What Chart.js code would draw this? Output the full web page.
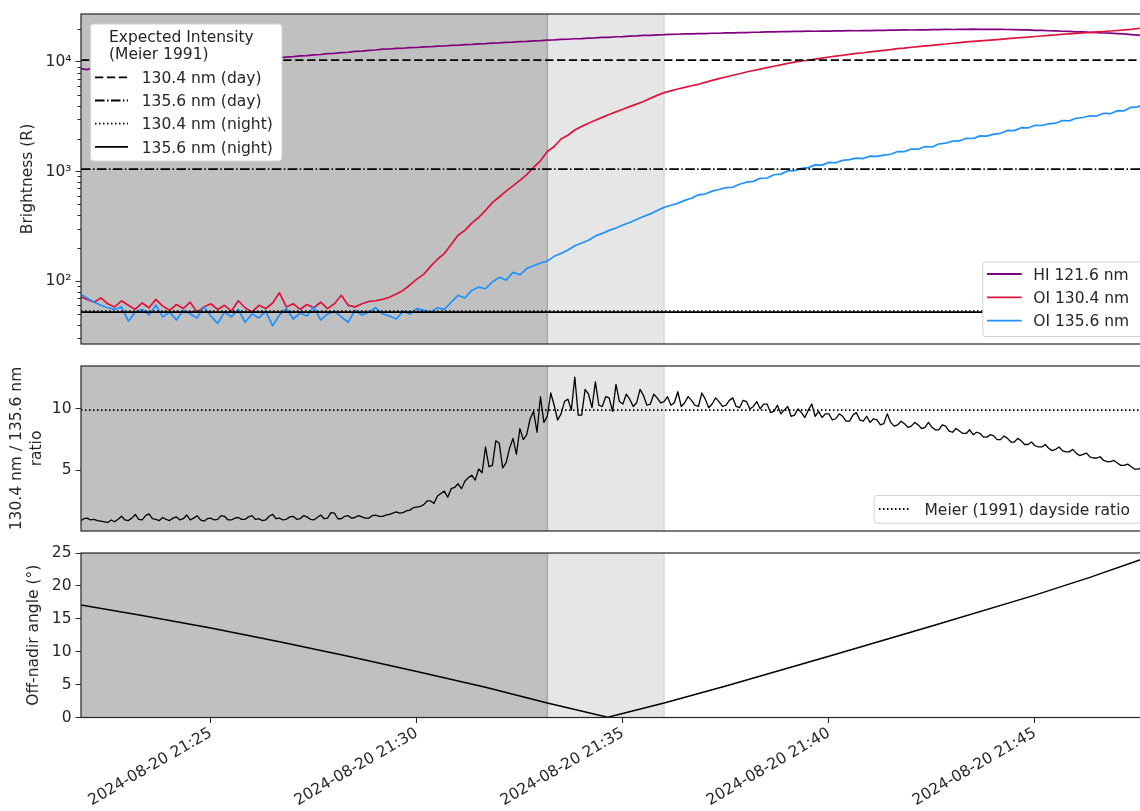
<!DOCTYPE html>
<html>
<head>
<meta charset="utf-8">
<script src="https://cdn.jsdelivr.net/npm/chart.js@4.4.1/dist/chart.umd.min.js"></script>
<style>
  html, body { margin: 0; padding: 0; background: #fff; overflow: hidden; width: 1140px; height: 811px; }
  canvas { position: absolute; left: 0; }
</style>
</head>
<body>
<canvas id="cBright" width="1160" height="352" style="top:0px"></canvas>
<canvas id="cRatio" width="1160" height="180" style="top:356px"></canvas>
<canvas id="cAngle" width="1160" height="271" style="top:540px"></canvas>
<script>
// ---------------------------------------------------------------------------
// Pass data. Clock: seconds after 2024-08-20 21:20:00
// ---------------------------------------------------------------------------
const obsDate = '2024-08-20';
const clockOriginSec = 21 * 3600 + 20 * 60;
const firstSampleSec = 110;
const sampleStepSec = 10;      // brightness cadence
const ratioStepSec = 5;        // ratio cadence

const seriesLabels = ['HI 121.6 nm', 'OI 130.4 nm', 'OI 135.6 nm'];

// HI 121.6 nm brightness (R)
const hiLyman = [
  8700, 8500, 8900, 9000, 9080, 9120, 9230, 9260, 9370, 9400,
  9510, 9560, 9650, 9700, 9810, 9850, 9960, 10010, 10120, 10150,
  10270, 10310, 10430, 10460, 10590, 10620, 10750, 10790, 10910, 10950,
  11080, 11170, 11350, 11430, 11620, 11700, 11900, 11980, 12180, 12260,
  12470, 12560, 12770, 12850, 13070, 13130, 13290, 13330, 13500, 13550,
  13720, 13770, 13940, 13990, 14160, 14210, 14390, 14440, 14620, 14670,
  14860, 14910, 15100, 15140, 15340, 15380, 15590, 15640, 15850, 15890,
  16060, 16110, 16290, 16330, 16520, 16560, 16750, 16790, 16990, 17040,
  17230, 17280, 17470, 17510, 17700, 17760, 17880, 17910, 18020, 18030,
  18150, 18160, 18280, 18290, 18410, 18420, 18540, 18550, 18670, 18680,
  18800, 18810, 18930, 18920, 19000, 18990, 19080, 19060, 19150, 19140,
  19220, 19210, 19290, 19270, 19370, 19340, 19450, 19410, 19520, 19500,
  19600, 19570, 19670, 19650, 19750, 19720, 19820, 19780, 19860, 19840,
  19900, 19860, 19890, 19850, 19850, 19780, 19740, 19630, 19590, 19460,
  19400, 19260, 19210, 19070, 19000, 18850, 18780, 18630, 18520, 18380,
  18300, 18130, 18010, 17780, 17560, 17330
];

// OI 130.4 nm brightness (R)
const oi1304 = [
  72, 68, 64, 70, 62, 58, 66, 60, 55, 63,
  57, 68, 59, 54, 61, 56, 64, 52, 58, 62,
  55, 60, 53, 66, 57, 52, 60, 56, 63, 78,
  58, 62, 55, 61, 57, 64, 56, 62, 74, 60,
  58, 62, 65, 66, 68, 71, 76, 82, 92, 104,
  115, 136, 158, 178, 215, 262, 290, 338, 380, 442,
  520, 585, 662, 738, 830, 935, 1090, 1250, 1520, 1690,
  1980, 2140, 2390, 2580, 2760, 2940, 3120, 3310, 3500, 3700,
  3910, 4120, 4350, 4650, 4950, 5250, 5450, 5660, 5850, 6060,
  6250, 6510, 6790, 7050, 7290, 7560, 7800, 8090, 8350, 8600,
  8860, 9140, 9400, 9690, 9950, 10200, 10360, 10610, 10840, 11100,
  11290, 11510, 11740, 11960, 12140, 12370, 12550, 12760, 12940, 13210,
  13390, 13620, 13790, 14020, 14190, 14420, 14590, 14820, 15000, 15220,
  15380, 15570, 15740, 15920, 16100, 16310, 16490, 16710, 16860, 17070,
  17260, 17470, 17650, 17900, 18050, 18240, 18420, 18570, 18780, 18960,
  19170, 19360, 19610, 19840, 20200, 20450
];

// OI 135.6 nm brightness (R)
const oi1356 = [
  76, 70, 64, 60, 57, 55, 58, 43, 52, 55,
  49, 60, 47, 52, 44, 54, 50, 46, 58, 48,
  41, 52, 47, 55, 42, 50, 46, 53, 39, 49,
  56, 45, 51, 48, 58, 44, 50, 53, 47, 42,
  54, 49, 52, 57, 50, 48, 45, 53, 50, 56,
  54, 52, 57, 55, 64, 74, 70, 82, 88, 85,
  98, 108, 102, 120, 114, 130, 138, 146, 152, 168,
  178, 192, 210, 222, 236, 258, 272, 290, 305, 325,
  342, 365, 388, 410, 440, 470, 492, 512, 545, 570,
  612, 622, 662, 684, 712, 718, 764, 798, 812, 866,
  872, 934, 946, 1012, 1015, 1070, 1084, 1148, 1142, 1210,
  1200, 1262, 1281, 1326, 1312, 1381, 1372, 1410, 1436, 1520,
  1518, 1603, 1598, 1688, 1672, 1781, 1812, 1893, 1899, 2010,
  2001, 2115, 2105, 2195, 2232, 2370, 2360, 2512, 2498, 2642,
  2630, 2720, 2760, 2920, 2895, 3062, 3110, 3228, 3205, 3400,
  3370, 3590, 3580, 3850, 3890, 4160
];

// 130.4 nm / 135.6 nm ratio, 5 s cadence
const ratio1304to1356 = [
  0.85, 1.05, 1.1, 0.95, 1.0, 0.9, 0.85, 0.8, 0.75, 0.95,
  0.8, 1.0, 1.25, 0.95, 0.9, 1.1, 1.4, 1.0, 0.95, 1.3,
  1.45, 1.05, 1.0, 0.9, 1.15, 1.0, 0.9, 1.1, 1.2, 0.95,
  1.05, 1.35, 0.95, 1.1, 1.3, 0.95, 0.85, 1.05, 1.1, 0.95,
  1.0, 1.3, 1.25, 0.95, 0.95, 1.1, 1.15, 1.0, 1.0, 1.2,
  1.3, 1.0, 1.05, 0.9, 0.95, 1.25, 1.4, 1.05, 1.1, 0.95,
  1.0, 1.2, 1.25, 1.0, 1.05, 1.3, 1.2, 1.0, 0.95, 1.15,
  1.35, 1.05, 1.1, 1.55, 1.5, 1.05, 1.05, 1.25, 1.3, 1.1,
  1.15, 1.3, 1.2, 1.1, 1.1, 1.3, 1.35, 1.25, 1.25, 1.35,
  1.4, 1.5, 1.6, 1.5, 1.55, 1.7, 1.75, 1.95, 2.0, 2.05,
  2.2, 2.5, 2.5, 2.3, 2.9, 3.1, 3.3, 2.8, 3.5, 3.6,
  3.9, 3.5, 4.1, 4.4, 4.6, 4.2, 5.1, 4.8, 6.9, 5.3,
  5.4, 7.4, 7.2, 5.2, 5.6, 6.8, 7.6, 6.3, 8.4, 7.5,
  7.9, 9.2, 9.8, 8.1, 11.0, 8.9, 9.4, 11.3, 10.3, 9.1,
  9.6, 10.6, 10.8, 9.9, 12.6, 9.5, 9.5, 11.6, 11.2, 10.1,
  12.2, 10.3, 10.2, 11.0, 10.9, 9.8, 12.0, 10.6, 10.4, 11.2,
  10.8, 10.2, 10.5, 11.6, 11.1, 10.3, 10.4, 11.2, 10.9, 10.5,
  10.6, 11.0, 10.3, 10.5, 11.4, 10.2, 10.5, 11.0, 10.7, 10.3,
  10.2, 11.3, 10.8, 10.1, 10.4, 10.9, 10.6, 10.2, 10.3, 10.7,
  10.9, 10.2, 10.1, 10.7, 10.6, 10.0, 10.2, 10.6, 10.0, 10.4,
  10.4, 9.7, 9.8, 10.3, 9.6, 9.9, 10.2, 9.4, 9.5, 10.0,
  9.7, 9.3, 9.9, 10.4, 9.4, 9.8, 9.3, 9.6, 9.6, 9.1,
  9.2, 9.6, 9.4, 9.0, 9.0, 9.5, 9.7, 9.1, 9.0, 9.4,
  8.9, 9.2, 9.1, 8.7, 8.8, 9.6, 8.9, 8.6, 8.7, 9.0,
  8.8, 8.5, 8.6, 8.9, 8.7, 8.4, 8.5, 8.9, 8.5, 8.3,
  8.3, 8.7, 8.6, 8.2, 8.1, 8.4, 8.2, 8.0, 8.0, 8.3,
  7.9, 8.1, 8.0, 7.7, 7.7, 7.9, 7.8, 7.5, 7.5, 7.8,
  7.6, 7.3, 7.3, 7.6, 7.4, 7.1, 7.1, 7.3, 7.0, 6.9,
  6.9, 7.1, 6.8, 6.6, 6.7, 6.9, 6.6, 6.5, 6.5, 6.7,
  6.4, 6.2, 6.3, 6.4, 6.1, 6.0, 6.0, 6.1, 5.8, 5.7,
  5.7, 5.8, 5.6, 5.4, 5.4, 5.5, 5.3, 5.1, 5.1, 5.2,
  5.0, 4.9
];

// Off-nadir pointing angle
const angleTimeSec = [110, 200, 300, 400, 500, 600, 700, 790, 878, 960, 1050, 1200, 1350, 1500, 1580, 1665];
const offNadirDeg  = [17.1, 15.5, 13.6, 11.5, 9.3, 7.0, 4.6, 2.2, 0.05, 2.2, 4.8, 9.3, 13.9, 18.6, 21.3, 24.4];

// Expected intensities (Meier 1991)
const meierLabels = ['130.4 nm (day)', '135.6 nm (day)', '130.4 nm (night)', '135.6 nm (night)'];
const meierLevels = [10400, 1050, 53, 52];

// Illumination: night until nightEndSec, twilight until twilightEndSec
const nightEndSec = 790;
const twilightEndSec = 960;

// Axis ticks
const xTickSec = [300, 600, 900, 1200, 1500];
const brightnessTicks = [100, 1000, 10000];
const ratioTicks = [5, 10];
const angleTicks = [0, 5, 10, 15, 20, 25];

// ---------------------------------------------------------------------------
// Styling
// ---------------------------------------------------------------------------
const FONT = '"DejaVu Sans", "Liberation Sans", sans-serif';
const FONT_PX = 15.5;
const INK = '#262626';
const seriesColors = ['#800080', '#dc143c', '#1e90ff'];
const meierDashes = [[8.3, 3.6], [9.6, 2.4, 1.5, 2.4], [1.5, 2.5], []];
const X_MIN = 111, X_MAX = 1669;

Chart.defaults.font.family = FONT;
Chart.defaults.font.size = FONT_PX;
Chart.defaults.color = INK;

const sampleSec = hiLyman.map((_, i) => firstSampleSec + i * sampleStepSec);
const ratioSec = ratio1304to1356.map((_, i) => firstSampleSec + i * ratioStepSec);
const toXY = (arr, times) => arr.map((v, i) => ({ x: times[i], y: v }));
const flatLine = v => [{ x: X_MIN, y: v }, { x: X_MAX, y: v }];
const dayRatio = meierLevels[0] / meierLevels[1];

const SUP = { '0': '⁰', '1': '¹', '2': '²', '3': '³', '4': '⁴', '5': '⁵' };
const powLabel = v => '10' + String(Math.round(Math.log10(v))).split('').map(c => SUP[c]).join('');
const pad2 = n => String(n).padStart(2, '0');
function clockLabel(sec) {
  const tot = clockOriginSec + sec;
  return `${obsDate} ${pad2(Math.floor(tot / 3600))}:${pad2(Math.floor((tot % 3600) / 60))}`;
}

// ---------------------------------------------------------------------------
// Panel decorations: shading, frame, minor log ticks, legends
// ---------------------------------------------------------------------------
function drawLegend(ctx, L) {
  ctx.save();
  const b = L.box;
  ctx.beginPath();
  ctx.roundRect(b.left + 0.5, b.top + 0.5, b.right - b.left, b.bottom - b.top, 3);
  ctx.fillStyle = '#ffffff';
  ctx.fill();
  ctx.strokeStyle = '#d2d2d2';
  ctx.lineWidth = 1;
  ctx.stroke();
  ctx.font = `${FONT_PX}px ${FONT}`;
  ctx.fillStyle = INK;
  ctx.textAlign = 'left';
  ctx.textBaseline = 'alphabetic';
  if (L.title) L.title.lines.forEach((t, i) => ctx.fillText(t, L.title.x, L.title.baselines[i]));
  L.rows.forEach(r => {
    ctx.save();
    ctx.strokeStyle = r.color;
    ctx.lineWidth = r.width;
    ctx.setLineDash(r.dash || []);
    ctx.beginPath();
    ctx.moveTo(L.sampleX[0], r.y);
    ctx.lineTo(L.sampleX[1], r.y);
    ctx.stroke();
    ctx.restore();
    ctx.fillText(r.label, L.textX, r.y + 5.6);
  });
  ctx.restore();
}

const panelDecor = {
  id: 'panelDecor',
  beforeDatasetsDraw(chart) {
    const { ctx, chartArea: a } = chart;
    const x = chart.scales.x;
    const xn = x.getPixelForValue(nightEndSec);
    const xt = x.getPixelForValue(twilightEndSec);
    ctx.save();
    ctx.beginPath();
    ctx.rect(a.left, a.top, a.width, a.height);
    ctx.clip();
    ctx.fillStyle = '#c0c0c0';
    ctx.fillRect(a.left, a.top, xn - a.left, a.height);
    ctx.fillStyle = '#e6e6e6';
    ctx.fillRect(xn, a.top, xt - xn, a.height);
    ctx.fillStyle = '#a8a8a8';
    ctx.fillRect(xn - 0.75, a.top, 1.5, a.height);
    ctx.fillStyle = '#d4d4d4';
    ctx.fillRect(xt - 0.6, a.top, 1.2, a.height);
    ctx.restore();
  },
  afterDraw(chart, args, opts) {
    const { ctx, chartArea: a } = chart;
    ctx.save();
    if (opts.minorLogTicks) {
      const y = chart.scales.y;
      ctx.strokeStyle = INK;
      ctx.lineWidth = 1;
      for (let d = 1; d <= 4; d++) {
        for (let m = 2; m <= 9; m++) {
          const v = m * Math.pow(10, d);
          if (v < y.min || v > y.max) continue;
          const py = Math.round(y.getPixelForValue(v)) + 0.5;
          ctx.beginPath();
          ctx.moveTo(a.left - 3.5, py);
          ctx.lineTo(a.left, py);
          ctx.stroke();
        }
      }
    }
    ctx.strokeStyle = INK;
    ctx.lineWidth = 1.2;
    ctx.strokeRect(a.left, a.top, a.width, a.height);
    ctx.restore();
    (opts.legends || []).forEach(L => drawLegend(ctx, L));
  }
};

function yAxis(extra) {
  return Object.assign({
    position: 'left',
    // fixed axis width; tick labels never push the plot area in
    afterFit(s) { s.width = 81; s.paddingTop = 0; s.paddingBottom = 0; },
    border: { display: false },
    grid: { display: true, drawOnChartArea: false, drawTicks: true, tickLength: 5.5, color: INK, lineWidth: 1 },
    ticks: { padding: 4, color: INK, font: { size: FONT_PX } }
  }, extra);
}
const hiddenX = { type: 'linear', min: X_MIN, max: X_MAX, display: false };

const baseOptions = (padding, scales, decor) => ({
  responsive: false,
  animation: false,
  events: [],
  layout: { padding },
  elements: { point: { radius: 0 }, line: { tension: 0, borderJoinStyle: 'round' } },
  plugins: { legend: { display: false }, tooltip: { enabled: false }, panelDecor: decor },
  scales
});

// ---------------------------------------------------------------------------
// Panel 1: brightness
// ---------------------------------------------------------------------------
const brightSeries = [hiLyman, oi1304, oi1356];
new Chart(document.getElementById('cBright'), {
  type: 'line',
  data: {
    datasets: [
      ...meierLevels.map((v, i) => ({
        label: meierLabels[i], data: flatLine(v), borderColor: '#000', borderWidth: 1.8,
        borderDash: meierDashes[i], order: i
      })),
      ...brightSeries.map((arr, i) => ({
        label: seriesLabels[i], data: toXY(arr, sampleSec), borderColor: seriesColors[i], borderWidth: 1.7,
        order: 10 - i
      }))
    ]
  },
  options: baseOptions({ top: 14, bottom: 8, left: 0, right: 9 }, {
    x: hiddenX,
    y: yAxis({
      type: 'logarithmic', min: 26.6, max: 27400,
      afterBuildTicks(s) { s.ticks = brightnessTicks.map(v => ({ value: v })); },
      ticks: { padding: 4, color: INK, font: { size: FONT_PX }, callback: v => powLabel(v) },
      title: { display: true, text: 'Brightness (R)', color: INK, font: { size: FONT_PX }, padding: { top: 18.2, bottom: 0 } }
    })
  }, {
    minorLogTicks: true,
    legends: [
      {
        box: { left: 90, top: 23.5, right: 281.5, bottom: 160.5 },
        title: { lines: ['Expected Intensity', '(Meier 1991)'], x: 109, baselines: [41.6, 58.8] },
        sampleX: [95, 128], textX: 141.7,
        rows: meierLabels.map((lab, i) => ({ label: lab, y: 77.3 + i * 23.2, color: '#000', width: 1.8, dash: meierDashes[i] }))
      },
      {
        box: { left: 982.3, top: 261.5, right: 1144, bottom: 336 },
        sampleX: [987, 1021.7], textX: 1033.3,
        rows: seriesLabels.map((lab, i) => ({ label: lab, y: 274 + i * 23.3, color: seriesColors[i], width: 1.8 }))
      }
    ]
  }),
  plugins: [panelDecor]
});

// ---------------------------------------------------------------------------
// Panel 2: 130.4 / 135.6 ratio
// ---------------------------------------------------------------------------
new Chart(document.getElementById('cRatio'), {
  type: 'line',
  data: {
    datasets: [
      { label: 'Meier (1991) dayside ratio', data: flatLine(dayRatio), borderColor: '#000', borderWidth: 1.8, borderDash: [1.5, 2.5], order: 0 },
      { label: 'ratio', data: toXY(ratio1304to1356, ratioSec), borderColor: '#000', borderWidth: 1.3, order: 1 }
    ]
  },
  options: baseOptions({ top: 10, bottom: 5, left: 0, right: 9 }, {
    x: hiddenX,
    y: yAxis({
      type: 'linear', min: 0.05, max: 13.5,
      afterBuildTicks(s) { s.ticks = ratioTicks.map(v => ({ value: v })); },
      title: { display: true, text: ['130.4 nm / 135.6 nm', 'ratio'], color: INK, font: { size: FONT_PX, lineHeight: 1.26 }, padding: { top: 7.2, bottom: 0 } }
    })
  }, {
    legends: [
      {
        box: { left: 873.6, top: 139, right: 1144, bottom: 166.7 },
        sampleX: [879, 910], textX: 924.5,
        rows: [{ label: 'Meier (1991) dayside ratio', y: 153, color: '#000', width: 1.8, dash: [1.5, 2.5] }]
      }
    ]
  }),
  plugins: [panelDecor]
});

// ---------------------------------------------------------------------------
// Panel 3: off-nadir angle
// ---------------------------------------------------------------------------
new Chart(document.getElementById('cAngle'), {
  type: 'line',
  data: {
    datasets: [
      { label: 'Off-nadir angle', data: toXY(offNadirDeg, angleTimeSec), borderColor: '#000', borderWidth: 1.5 }
    ]
  },
  options: baseOptions({ top: 13, bottom: 0, left: 0, right: 9 }, {
    x: {
      type: 'linear', min: X_MIN, max: X_MAX, position: 'bottom',
      afterFit(s) { s.height = 93.5; },
      afterBuildTicks(s) { s.ticks = xTickSec.map(v => ({ value: v })); },
      border: { display: false },
      grid: { display: true, drawOnChartArea: false, drawTicks: true, tickLength: 5.5, color: INK, lineWidth: 1 },
      ticks: { autoSkip: false, minRotation: 30, maxRotation: 30, padding: 1, color: INK, font: { size: FONT_PX }, callback: v => clockLabel(v) }
    },
    y: yAxis({
      type: 'linear', min: 0, max: 25,
      afterBuildTicks(s) { s.ticks = angleTicks.map(v => ({ value: v })); },
      title: { display: true, text: 'Off-nadir angle (°)', color: INK, font: { size: FONT_PX }, padding: { top: 25, bottom: 0 } }
    })
  }, {}),
  plugins: [panelDecor]
});
</script>
</body>
</html>
